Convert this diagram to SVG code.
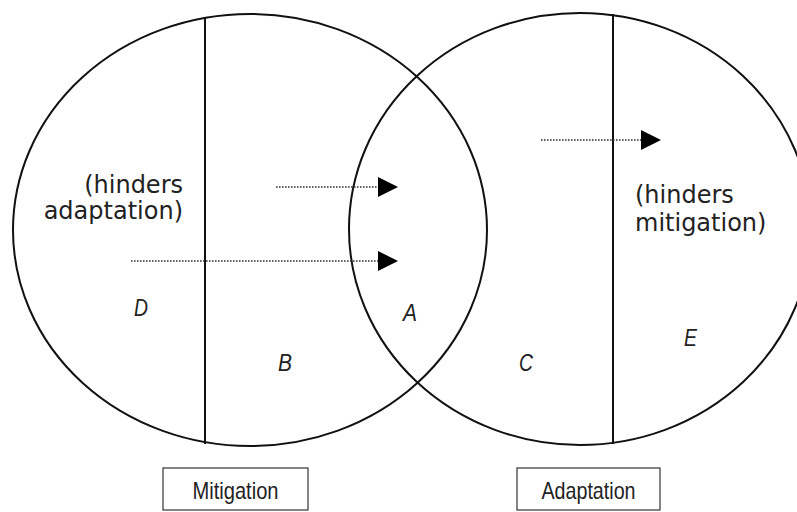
<svg xmlns="http://www.w3.org/2000/svg" width="797" height="512" viewBox="0 0 797 512">
<style>
.ring{fill:none;stroke:#111;stroke-width:2}
.div{stroke:#111;stroke-width:2}
.dot{stroke:#333;stroke-width:1.6;stroke-dasharray:1.6 1.4}
.head{fill:#000}
.note{font-family:"DejaVu Sans",Verdana,sans-serif;font-size:24px;fill:#222}
.lab{font-family:"Liberation Sans",Arial,sans-serif;font-style:italic;font-size:23px;fill:#222}
.box{fill:#fff;stroke:#333;stroke-width:1.2}
.boxt{font-family:"Liberation Sans",Arial,sans-serif;font-size:24px;fill:#222}
</style>
<g id="mitigation-circle">
<ellipse class="ring" cx="250" cy="230" rx="237" ry="216"/>
<line class="div" x1="205" y1="17" x2="205" y2="444"/>
<text class="note" x="183" y="193" text-anchor="end">(hinders</text>
<text class="note" x="183" y="219" text-anchor="end">adaptation)</text>
<text class="lab" x="134" y="316" textLength="14" lengthAdjust="spacingAndGlyphs">D</text>
<text class="lab" x="278" y="371" textLength="14" lengthAdjust="spacingAndGlyphs">B</text>
</g>
<g id="adaptation-circle">
<ellipse class="ring" cx="580" cy="229" rx="231" ry="216"/>
<line class="div" x1="613" y1="14" x2="613" y2="444"/>
<text class="note" x="635" y="203">(hinders</text>
<text class="note" x="635" y="231">mitigation)</text>
<text class="lab" x="519" y="371" textLength="14" lengthAdjust="spacingAndGlyphs">C</text>
<text class="lab" x="684" y="346" textLength="13" lengthAdjust="spacingAndGlyphs">E</text>
</g>
<g id="overlap">
<text class="lab" x="403" y="321" textLength="14" lengthAdjust="spacingAndGlyphs">A</text>
</g>
<g id="connectors">
<line class="dot" x1="276" y1="187" x2="380" y2="187"/>
<polygon class="head" points="378,177 398,187 378,197"/>
<line class="dot" x1="131" y1="261" x2="380" y2="261"/>
<polygon class="head" points="378,251 398,261 378,271"/>
<line class="dot" x1="541" y1="140" x2="643" y2="140"/>
<polygon class="head" points="641,130 661,140 641,150"/>
</g>
<g id="mitigation-box">
<rect class="box" x="163" y="468" width="145" height="42"/>
<text class="boxt" x="235.5" y="499" text-anchor="middle" textLength="86" lengthAdjust="spacingAndGlyphs">Mitigation</text>
</g>
<g id="adaptation-box">
<rect class="box" x="517" y="468" width="143" height="42"/>
<text class="boxt" x="588.5" y="499" text-anchor="middle" textLength="94" lengthAdjust="spacingAndGlyphs">Adaptation</text>
</g>
</svg>
